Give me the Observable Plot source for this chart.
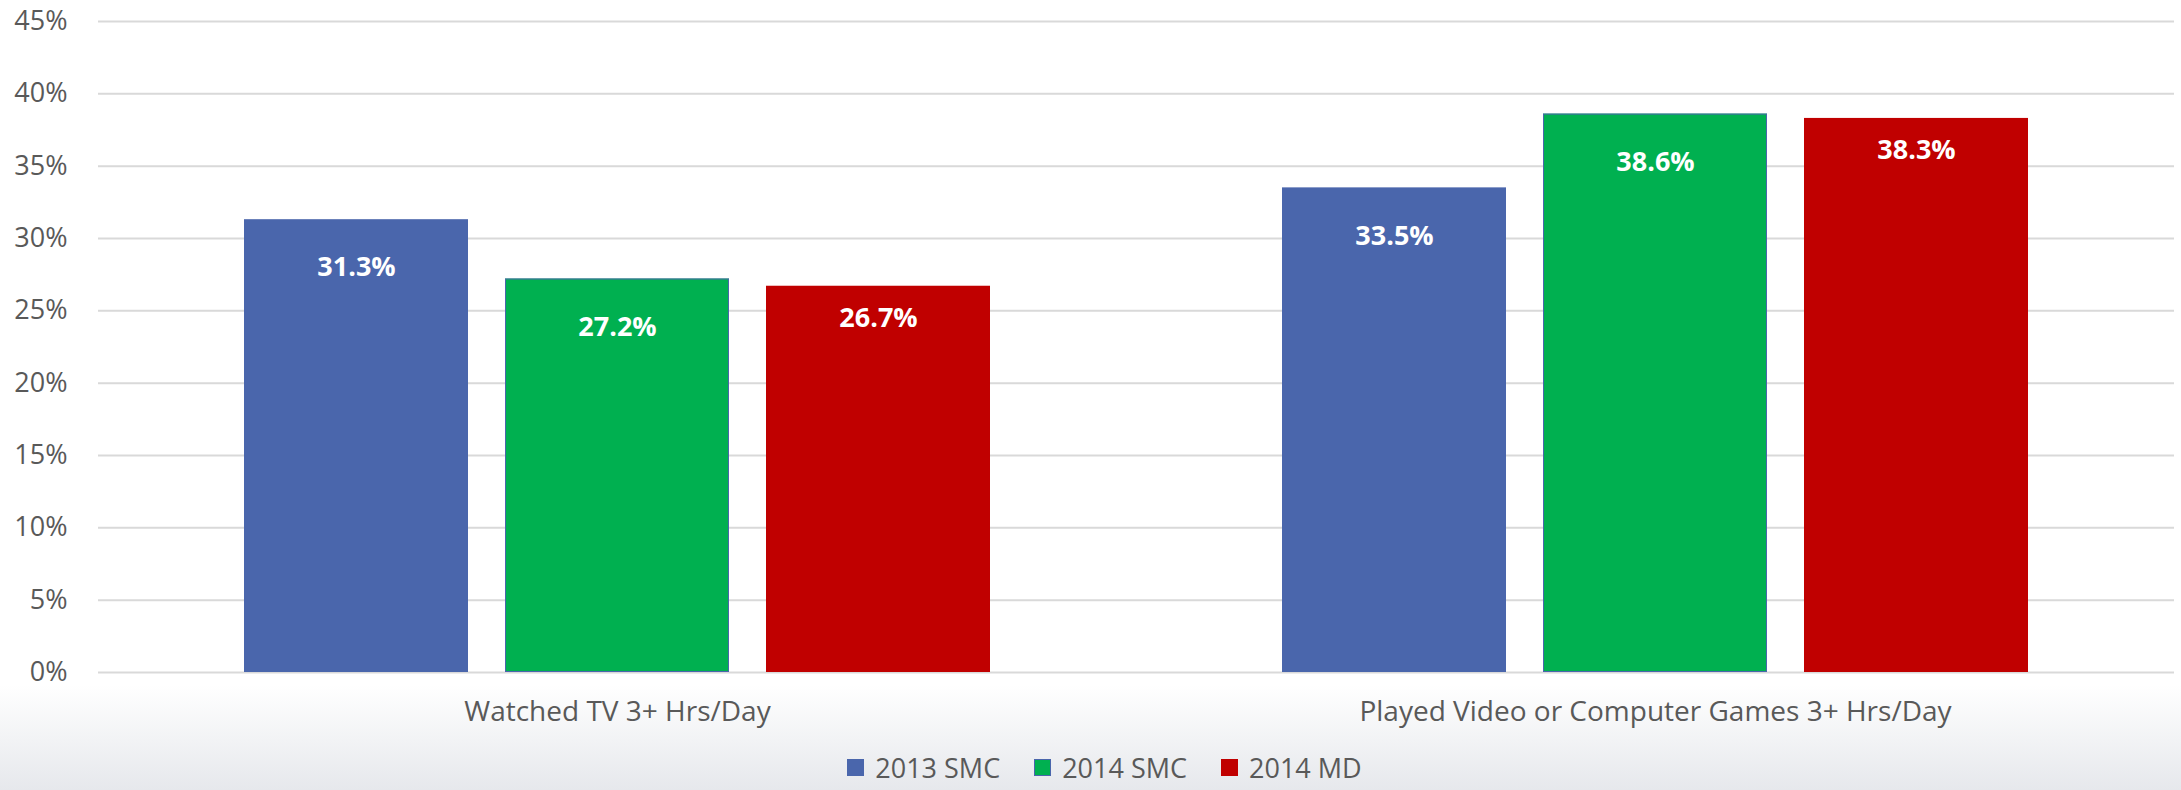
<!DOCTYPE html>
<html>
<head>
<meta charset="utf-8">
<script src="https://cdn.jsdelivr.net/npm/d3@7"></script>
<script src="https://cdn.jsdelivr.net/npm/@observablehq/plot@0.6"></script>
<style>
  html, body { margin: 0; padding: 0; }
  body {
    width: 2181px; height: 790px; overflow: hidden;
    background: linear-gradient(to bottom, #ffffff 0px, #ffffff 685px, #e6e8ec 790px);
    font-family: 'Open Sans', sans-serif;
  }
  #chart svg { display: block; background: transparent; }
  #legend {
    display: flex; justify-content: center; align-items: center;
    height: 45px; margin-top: 0px; padding-left: 28px;
    font-size: 27px; color: #595959; font-family: 'Open Sans', sans-serif;
  }
  .item { display: flex; align-items: center; margin: 0 17px; }
  .sw { width: 17px; height: 17px; margin-right: 11px; box-sizing: border-box; }
</style>
</head>
<body>
<div id="chart"></div>
<div id="legend"></div>
<script>
const categories = ["Watched TV 3+ Hrs/Day", "Played Video or Computer Games 3+ Hrs/Day"];
const series = ["2013 SMC", "2014 SMC", "2014 MD"];
const values2013SMC = [31.3, 33.5];
const values2014SMC = [27.2, 38.6];
const values2014MD = [26.7, 38.3];
const colors = ["#4A66AC", "#00B050", "#C00000"];
const yTicks = [0, 5, 10, 15, 20, 25, 30, 35, 40, 45];

const seriesValues = [values2013SMC, values2014SMC, values2014MD];
const data = [];
categories.forEach((c, i) => {
  series.forEach((s, j) => data.push({category: c, series: s, value: seriesValues[j][i]}));
});
const fmt = d => d.value.toFixed(1) + "%";

const chart = Plot.plot({
  width: 2181,
  height: 745,
  marginLeft: 98,
  marginRight: 7,
  marginTop: 21,
  marginBottom: 73,
  style: {fontFamily: "'Open Sans', sans-serif", background: "transparent"},
  fx: {domain: categories, padding: 0, label: null, axis: null},
  x: {domain: series, paddingInner: 0.141, paddingOuter: 0.554, axis: null},
  y: {domain: [0, 45], label: null},
  color: {domain: series, range: colors},
  marks: [
    Plot.gridY(yTicks, {stroke: "#d9d9d9", strokeOpacity: 1, strokeWidth: 2}),
    Plot.axisY(yTicks, {tickSize: 0, tickPadding: 31, tickFormat: d => d + "%", fontSize: 27, fill: "#595959", label: null}),
    Plot.barY(data, {fx: "category", x: "series", y: "value", fill: "series"}),
    Plot.barY(data.filter(d => d.series === "2014 SMC"), {fx: "category", x: "series", y: "value", fill: "none", stroke: colors[0], strokeWidth: 1, inset: 0.5}),
    Plot.text(data.filter(d => d.series !== "2014 MD"), {fx: "category", x: "series", y: "value", text: fmt, dy: 48, fill: "white", fontWeight: "bold", fontSize: 27}),
    Plot.text(data.filter(d => d.series === "2014 MD"), {fx: "category", x: "series", y: "value", text: fmt, dy: 32, fill: "white", fontWeight: "bold", fontSize: 27}),
    Plot.axisFx({anchor: "bottom", tickSize: 0, tickPadding: 29, fontSize: 28, fill: "#595959", label: null})
  ]
});
document.getElementById("chart").appendChild(chart);

const legend = document.getElementById("legend");
series.forEach((s, i) => {
  const item = document.createElement("div");
  item.className = "item";
  const sw = document.createElement("div");
  sw.className = "sw";
  sw.style.background = colors[i];
  if (s === "2014 SMC") sw.style.border = "1px solid " + colors[0];
  const t = document.createElement("span");
  t.textContent = s;
  item.appendChild(sw);
  item.appendChild(t);
  legend.appendChild(item);
});
</script>
</body>
</html>
